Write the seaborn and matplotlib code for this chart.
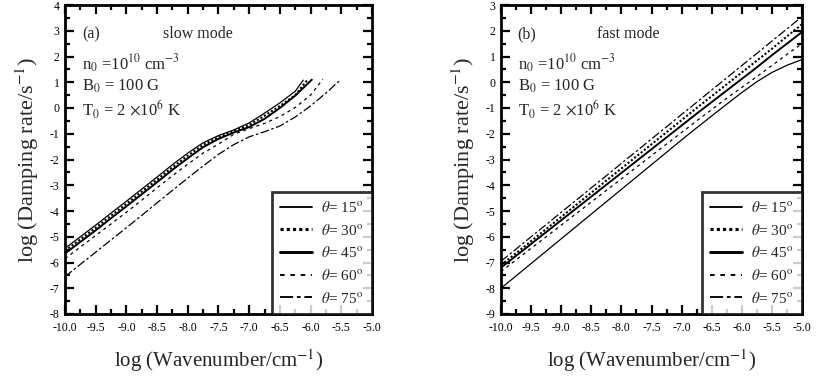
import numpy as np
import pandas as pd
import matplotlib
matplotlib.use("Agg")
import matplotlib.pyplot as plt
from matplotlib.lines import Line2D
from matplotlib.ticker import MultipleLocator, FormatStrFormatter
import seaborn as sns

sns.set_theme(style="ticks")
plt.rcParams["font.family"] = ["Liberation Serif", "DejaVu Serif"]
plt.rcParams["mathtext.fontset"] = "stix"
plt.rcParams["axes.unicode_minus"] = False

angles = [15, 30, 45, 60, 75]

# slow mode: log k on a shared grid, then each curve's last point
slow_grid = [-10.0, -9.75, -9.5, -9.25, -9.0, -8.75, -8.5, -8.25, -8.0,
             -7.75, -7.5, -7.25, -7.0, -6.75, -6.5, -6.25]
slow_x = {
    15: slow_grid + [-6.12],
    30: slow_grid + [-6.05],
    45: slow_grid + [-5.98],
    60: slow_grid + [-6.0, -5.8],
    75: slow_grid + [-6.0, -5.75, -5.52],
}
slow_y = {
    15: [-5.45, -5.0, -4.55, -4.08, -3.62, -3.15, -2.68, -2.2, -1.75,
         -1.35, -1.07, -0.85, -0.58, -0.2, 0.2, 0.65, 1.08],
    30: [-5.55, -5.1, -4.65, -4.18, -3.72, -3.25, -2.78, -2.3, -1.85,
         -1.43, -1.13, -0.9, -0.66, -0.3, 0.08, 0.5, 1.1],
    45: [-5.65, -5.2, -4.75, -4.28, -3.82, -3.35, -2.88, -2.4, -1.95,
         -1.52, -1.2, -0.95, -0.74, -0.42, 0.0, 0.48, 1.1],
    60: [-5.85, -5.4, -4.95, -4.5, -4.05, -3.58, -3.1, -2.63, -2.18,
         -1.75, -1.4, -1.02, -0.8, -0.6, -0.33, 0.02, 0.5, 1.12],
    75: [-6.55, -6.07, -5.6, -5.12, -4.65, -4.17, -3.68, -3.2, -2.72,
         -2.25, -1.8, -1.42, -1.12, -0.92, -0.7, -0.35, 0.08, 0.58, 1.08],
}

# fast mode: every curve spans the full wavenumber range
fast_x = [-10.0, -9.75, -9.5, -9.25, -9.0, -8.75, -8.5, -8.25, -8.0, -7.75,
          -7.5, -7.25, -7.0, -6.75, -6.5, -6.25, -6.0, -5.75, -5.5, -5.25, -5.0]
fast_y = {
    15: [-8.0, -7.52, -7.04, -6.56, -6.08, -5.6, -5.12, -4.64, -4.16, -3.68,
         -3.2, -2.72, -2.24, -1.77, -1.31, -0.85, -0.4, 0.02, 0.38, 0.66, 0.88],
    30: [-7.1, -6.64, -6.17, -5.7, -5.23, -4.76, -4.29, -3.82, -3.35, -2.88,
         -2.41, -1.94, -1.47, -1.0, -0.54, -0.08, 0.38, 0.84, 1.3, 1.78, 2.25],
    45: [-7.2, -6.74, -6.28, -5.82, -5.36, -4.9, -4.44, -3.98, -3.52, -3.06,
         -2.6, -2.14, -1.68, -1.22, -0.77, -0.32, 0.13, 0.58, 1.05, 1.5, 1.95],
    60: [-7.35, -6.9, -6.45, -6.0, -5.55, -5.1, -4.65, -4.2, -3.75, -3.3,
         -2.85, -2.4, -1.95, -1.5, -1.06, -0.62, -0.2, 0.22, 0.65, 1.08, 1.5],
    75: [-6.95, -6.48, -6.0, -5.53, -5.05, -4.58, -4.1, -3.63, -3.15, -2.68,
         -2.2, -1.73, -1.25, -0.78, -0.3, 0.17, 0.65, 1.12, 1.6, 2.07, 2.55],
}

styles = {
    15: dict(linestyle="-", linewidth=0.9),
    30: dict(linestyle=(0, (1, 1)), linewidth=1.5),
    45: dict(linestyle="-", linewidth=1.4),
    60: dict(linestyle=(0, (2.5, 3)), linewidth=0.9),
    75: dict(linestyle=(0, (7, 2, 2, 2)), linewidth=0.9),
}

params = [r"n$_0$ =10$^{10}$ cm$^{-3}$", r"B$_0$ = 100 G", r"T$_0$ = 2 $\times$10$^6$ K"]

fig = plt.figure(figsize=(8.16, 3.83), dpi=100)
ax_a = fig.add_axes([65 / 816, 1 - 314 / 383, 307 / 816, 309 / 383])
ax_b = fig.add_axes([501 / 816, 1 - 314 / 383, 301 / 816, 309 / 383])


def draw(ax, xs, ys):
    for a in angles:
        x = xs[a] if isinstance(xs, dict) else xs
        df = pd.DataFrame({"logk": x, "loggamma": ys[a]})
        sns.lineplot(data=df, x="logk", y="loggamma", ax=ax, color="black",
                     sort=False, legend=False, **styles[a])


draw(ax_a, slow_x, slow_y)
draw(ax_b, fast_x, fast_y)


def style_axes(ax, ylim, tag, mode):
    ax.set_xlim(-10.0, -5.0)
    ax.set_ylim(*ylim)
    ax.xaxis.set_major_locator(MultipleLocator(0.5))
    ax.xaxis.set_minor_locator(MultipleLocator(0.25))
    ax.yaxis.set_major_locator(MultipleLocator(1))
    ax.yaxis.set_minor_locator(MultipleLocator(0.5))
    ax.xaxis.set_major_formatter(FormatStrFormatter("%.1f"))
    ax.yaxis.set_major_formatter(FormatStrFormatter("%d"))
    ax.tick_params(which="both", direction="in", top=True, right=True,
                   width=1.6, colors="black")
    ax.tick_params(which="major", length=6.5, labelsize=8.5)
    ax.tick_params(axis="x", which="major", pad=6)
    ax.tick_params(axis="y", which="major", pad=4)
    ax.tick_params(which="minor", length=3.5)
    for s in ax.spines.values():
        s.set_linewidth(2.0)
        s.set_color("black")
    ax.set_xlabel(r"log (Wavenumber/cm$^{-1}$)", fontsize=15, labelpad=9)
    ax.set_ylabel(r"log (Damping rate/s$^{-1}$)", fontsize=16, labelpad=6)
    ax.text(0.055, 0.905, tag, transform=ax.transAxes, fontsize=11.5, va="center")
    ax.text(0.32, 0.905, mode, transform=ax.transAxes, fontsize=11.5, va="center")
    for i, t in enumerate(params):
        ax.text(0.055, 0.81 - i * 0.074, t, transform=ax.transAxes,
                fontsize=12, va="center")
    handles = [Line2D([], [], color="black", **styles[a]) for a in angles]
    for h in handles:
        h.set_linewidth(h.get_linewidth() * 1.5)
    labels = [r"$\theta$= %d$^\mathrm{o}$" % a for a in angles]
    leg = ax.legend(handles, labels, loc="lower right", borderaxespad=0,
                    fontsize=11, handlelength=2.1, labelspacing=0.5,
                    frameon=True, fancybox=False, borderpad=0.55,
                    handletextpad=0.6)
    leg.get_frame().set_edgecolor("black")
    leg.get_frame().set_linewidth(2.0)


style_axes(ax_a, (-8, 4), "(a)", "slow mode")
style_axes(ax_b, (-9, 3), "(b)", "fast mode")

fig.savefig("out.png", dpi=100)
